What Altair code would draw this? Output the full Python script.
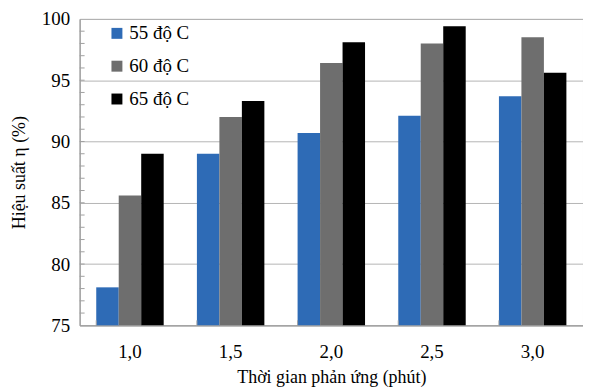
import altair as alt
import pandas as pd

times = ["1,0", "1,5", "2,0", "2,5", "3,0"]
series = ["55 độ C", "60 độ C", "65 độ C"]
v55 = [78.1, 89.0, 90.7, 92.1, 93.7]
v60 = [85.6, 92.0, 96.4, 98.0, 98.5]
v65 = [89.0, 93.3, 98.1, 99.4, 95.6]
colors = ["#2e6bb6", "#6e6e6e", "#000000"]
minor_ticks = list(range(76, 100))

rows = []
for s, vals in zip(series, [v55, v60, v65]):
    for t, v in zip(times, vals):
        rows.append({"t": t, "s": s, "v": v})
df = pd.DataFrame(rows)
df_ticks = pd.DataFrame({"y": minor_ticks})
df_cats = pd.DataFrame({"t": times})

FONT = "Liberation Serif"
W, H = 506, 308

xscale = alt.Scale(domain=times, paddingInner=0.33, paddingOuter=0.165)
yscale = alt.Scale(domain=[75, 100], nice=False, zero=False)

bars = alt.Chart(df).mark_bar().encode(
    x=alt.X("t:N", scale=xscale, sort=times,
            axis=alt.Axis(title="Thời gian phản ứng (phút)", labelAngle=0, ticks=False,
                          labelPadding=17, titlePadding=7, labelFont=FONT, titleFont=FONT)),
    xOffset=alt.XOffset("s:N", sort=series),
    y=alt.Y("v:Q", scale=yscale,
            axis=alt.Axis(title="Hiệu suất η (%)", values=[75, 80, 85, 90, 95, 100],
                          ticks=False, labelPadding=10, titlePadding=13, grid=True,
                          labelFont=FONT, titleFont=FONT)),
    y2=alt.datum(75),
    color=alt.Color("s:N", sort=series, scale=alt.Scale(domain=series, range=colors),
                    legend=alt.Legend(title=None, orient="none", legendX=28, legendY=5,
                                      symbolType="square", symbolSize=121,
                                      symbolStrokeWidth=0, labelFontSize=19,
                                      labelFont=FONT, rowPadding=13, labelOffset=3)),
)

yticks = alt.Chart(df_ticks).mark_rule(color="#a0a0a0", strokeWidth=1).encode(
    y=alt.Y("y:Q", scale=yscale),
    x=alt.value(0), x2=alt.value(5),
)

xticks = alt.Chart(df_cats).mark_rule(color="#a0a0a0", strokeWidth=1).encode(
    x=alt.X("t:N", scale=xscale, sort=times, bandPosition=0),
    y=alt.value(H - 5), y2=alt.value(H),
)

chart = alt.layer(bars, yticks, xticks).properties(
    width=W, height=H, padding={"left": 2, "top": 1, "right": 0, "bottom": 0}
).configure(font=FONT).configure_view(stroke="#9a9a9a", strokeWidth=1).configure_axis(
    labelFont=FONT, titleFont=FONT, labelFontSize=19, titleFontSize=18,
    titleFontWeight="normal", labelColor="#000", titleColor="#000",
    gridColor="#b4b4b4", gridWidth=1, domainColor="#9a9a9a",
).configure_legend(labelFont=FONT, labelColor="#000")

chart.save("out.html", embed_options={"renderer": "svg", "actions": False})
